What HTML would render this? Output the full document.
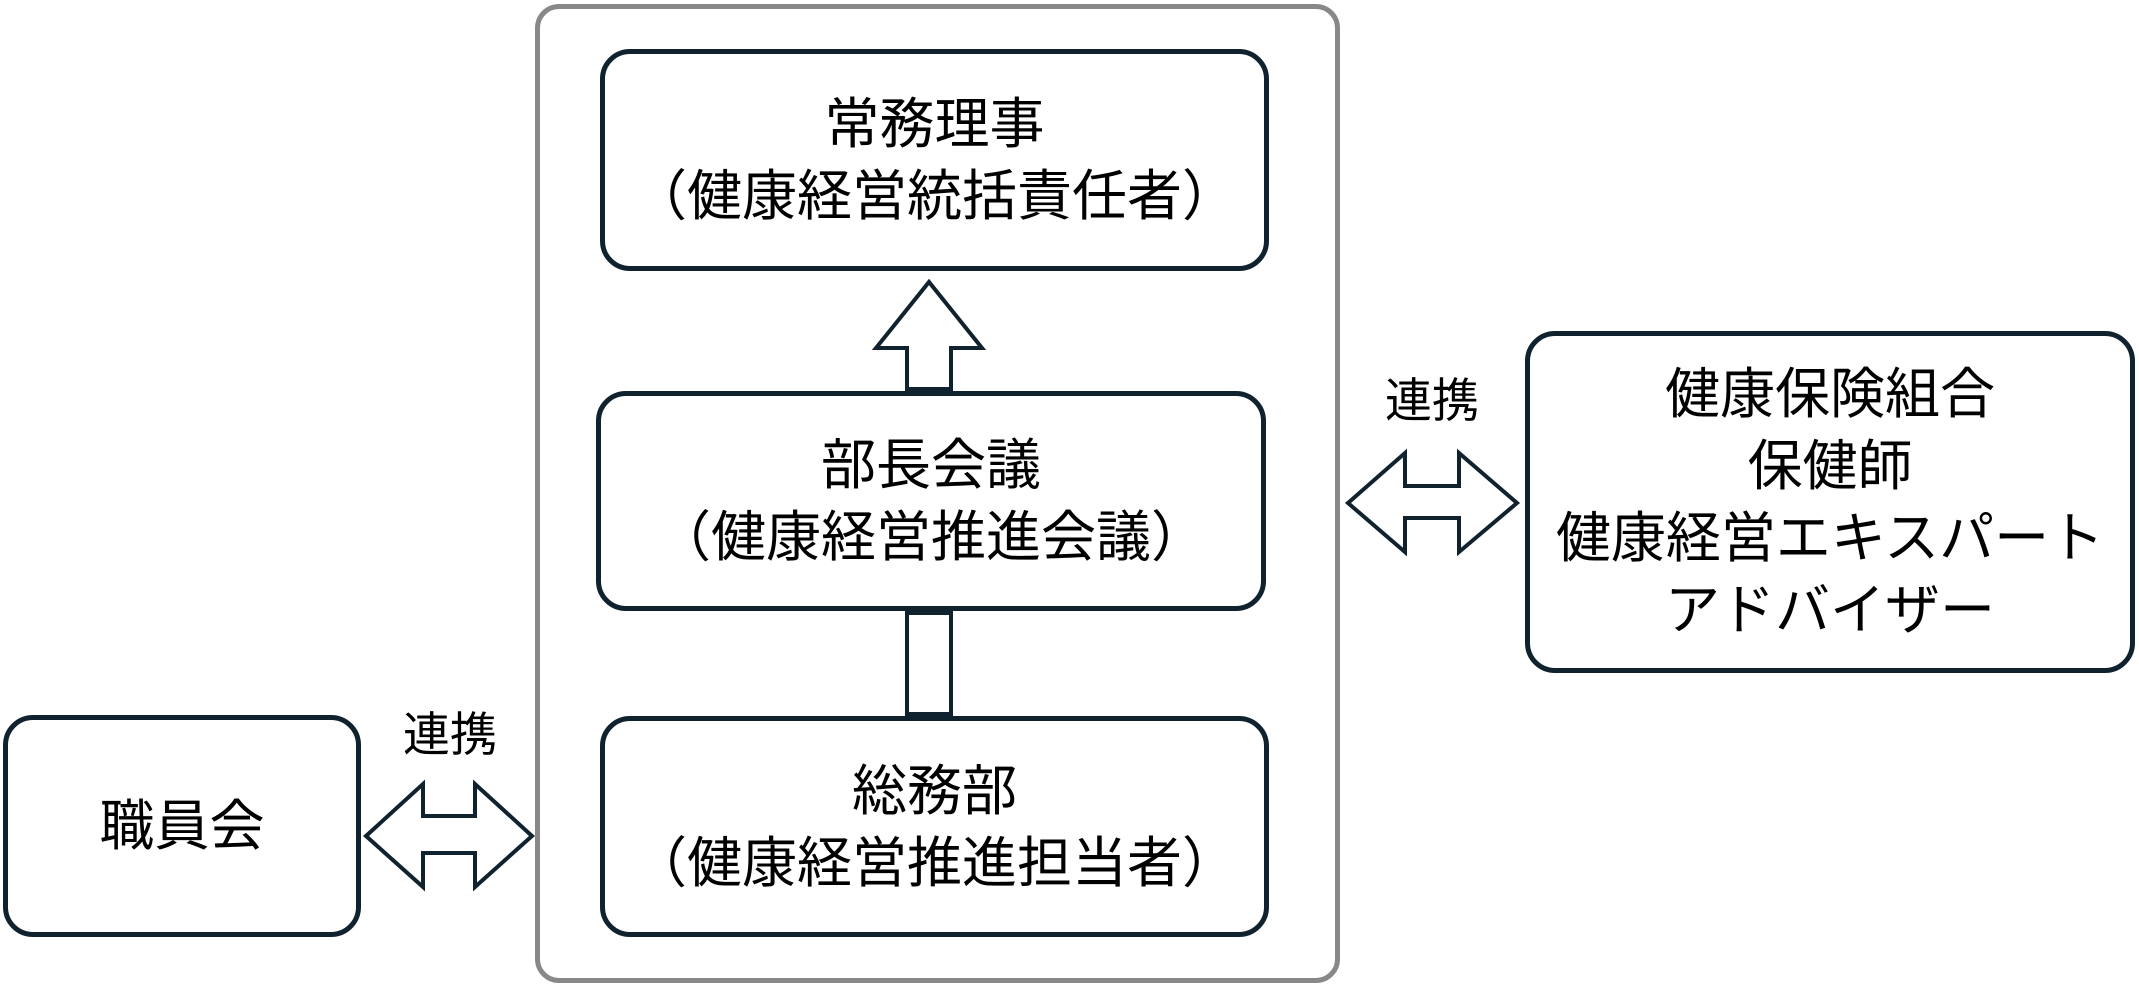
<!DOCTYPE html>
<html><head><meta charset="utf-8"><style>
body{margin:0;width:2139px;height:988px;background:#fff;position:relative;overflow:hidden;font-family:"Liberation Sans","WenQuanYi Zen Hei","Noto Sans CJK JP",sans-serif;color:#000;}
.b{position:absolute;box-sizing:border-box;border:5px solid #10222e;border-radius:30px;display:flex;align-items:center;justify-content:center;text-align:center;font-size:55px;line-height:72px;white-space:nowrap;}
.l{position:absolute;font-size:47px;}
</style></head><body>
<div style="position:absolute;left:535px;top:4px;width:805px;height:979px;box-sizing:border-box;border:5px solid #888;border-radius:24px;"></div>
<div class="b" style="left:600px;top:49px;width:669px;height:222px;">常務理事<br>（健康経営統括責任者）</div>
<div class="b" style="left:596px;top:391px;width:670px;height:220px;">部長会議<br>（健康経営推進会議）</div>
<div class="b" style="left:600px;top:716px;width:669px;height:221px;">総務部<br>（健康経営推進担当者）</div>
<div class="b" style="left:3px;top:715px;width:358px;height:222px;">職員会</div>
<div class="b" style="left:1525px;top:331px;width:610px;height:342px;">健康保険組合<br>保健師<br>健康経営エキスパート<br>アドバイザー</div>
<div class="l" style="left:403px;top:696px;">連携</div>
<div class="l" style="left:1385px;top:362px;">連携</div>
<svg width="2139" height="988" style="position:absolute;left:0;top:0" fill="#fff" stroke="#10222e" stroke-width="4">
<polygon points="907,389 907,348 876,348 929,282 982,348 951,348 951,389"/>
<rect x="907" y="613" width="44" height="101"/>
<polygon points="1348,503 1405,453 1405,486 1459,486 1459,453 1517,503 1459,552 1459,518 1405,518 1405,552"/>
<polygon points="366,836 423,784 423,816 475,816 475,784 532,836 475,887 475,853 423,853 423,887"/>
</svg>
</body></html>
